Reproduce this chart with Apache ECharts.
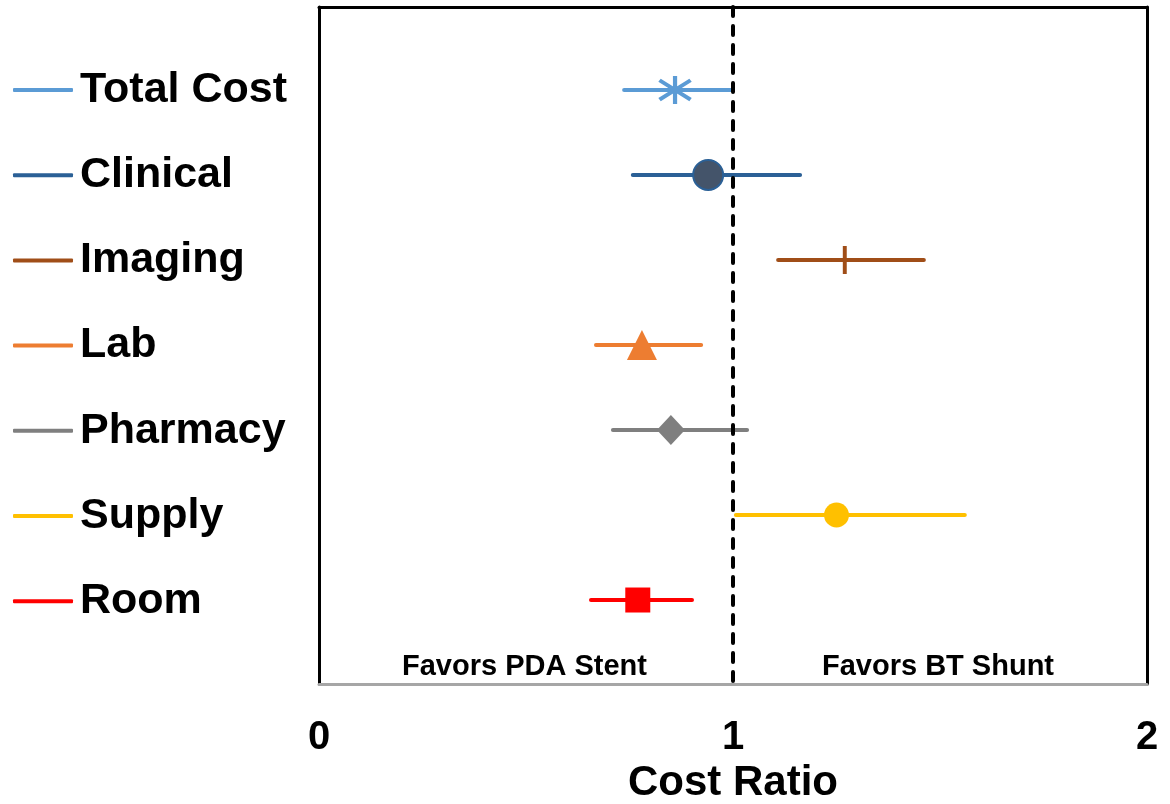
<!DOCTYPE html>
<html>
<head>
<meta charset="utf-8">
<script src="https://cdn.jsdelivr.net/npm/echarts@6/dist/echarts.min.js"></script>
<style>html,body{margin:0;padding:0;background:#fff}#c{width:1170px;height:804px}</style>
</head>
<body>
<div id="c"></div>
<script>
const categories = ['Total Cost', 'Clinical', 'Imaging', 'Lab', 'Pharmacy', 'Supply', 'Room'];
const estimates = [0.86, 0.94, 1.27, 0.78, 0.85, 1.25, 0.77];
const lower = [0.737, 0.758, 1.109, 0.669, 0.710, 1.007, 0.657];
const upper = [1.0, 1.162, 1.461, 0.923, 1.034, 1.560, 0.901];
const xTicks = [0, 1, 2];
const colors = ['#5B9BD5', '#2B6096', '#A04E18', '#ED7D31', '#7F7F7F', '#FFC000', '#FF0000'];
const refLine = 1;

const FONT = "'Liberation Sans', Arial, Helvetica, sans-serif";

const symbols = [
  {symbol: 'path://M0,-13L0,13M-13,-9L13,9M-13,9L13,-9', size: [31, 28], style: {color: 'transparent', borderColor: colors[0], borderWidth: 4, opacity: 1}},
  {symbol: 'circle', size: 30, style: {color: '#44546A', borderColor: '#2B6096', borderWidth: 2, opacity: 1}},
  {symbol: 'path://M0,-13L0,13M-13,0L13,0', size: [27, 28], style: {color: 'transparent', borderColor: colors[2], borderWidth: 4, opacity: 1}},
  {symbol: 'triangle', size: [30, 30], style: {color: colors[3], opacity: 1}},
  {symbol: 'diamond', size: [28, 30], style: {color: colors[4], opacity: 1}},
  {symbol: 'circle', size: 25, style: {color: colors[5], opacity: 1}},
  {symbol: 'rect', size: 25, style: {color: colors[6], opacity: 1}}
];

const series = [];
categories.forEach((name, i) => {
  series.push({
    type: 'line', name: name, symbol: 'none', silent: true, z: 2,
    color: colors[i],
    lineStyle: {color: colors[i], width: 4, cap: 'round'},
    data: [[lower[i], i + 1], [upper[i], i + 1]]
  });
});
categories.forEach((name, i) => {
  series.push({
    type: 'scatter', name: name, silent: true, z: 4,
    symbol: symbols[i].symbol, symbolSize: symbols[i].size,
    itemStyle: symbols[i].style,
    data: [[estimates[i], i + 1]]
  });
});
series.push({
  type: 'line', name: 'ref', data: [], z: 3, silent: true,
  markLine: {
    silent: true, symbol: ['none', 'none'], label: {show: false},
    lineStyle: {color: '#000', type: [9, 10], width: 4, cap: 'round'},
    data: [{xAxis: refLine}]
  }
});

const yMin = 0.024, yMax = 7.988;

const chart = echarts.init(document.getElementById('c'), null, {renderer: 'canvas'});
chart.setOption({
  animation: false,
  backgroundColor: '#fff',
  grid: {left: 319, right: 23, top: 7, bottom: 120, containLabel: false, outerBoundsMode: 'none'},
  legend: {
    data: categories, orient: 'vertical', left: 13, top: 67, padding: 0,
    icon: 'roundRect', itemWidth: 60, itemHeight: 4, itemGap: 39.2,
    selectedMode: false,
    textStyle: {fontSize: 43, fontWeight: 'bold', color: '#000', fontFamily: FONT, lineHeight: 46, padding: [0, 0, 0, 2]}
  },
  xAxis: [
    {
      type: 'value', min: 0, max: 2, interval: 1, position: 'bottom',
      name: 'Cost Ratio', nameLocation: 'middle', nameGap: 61,
      nameTextStyle: {fontSize: 42, fontWeight: 'bold', color: '#000', fontFamily: FONT},
      axisLine: {show: true, onZero: false, lineStyle: {color: '#A6A6A6', width: 3}},
      axisTick: {show: false}, splitLine: {show: false},
      axisLabel: {fontSize: 40, fontWeight: 'bold', color: '#000', fontFamily: FONT, margin: 34,
        formatter: v => xTicks.indexOf(v) >= 0 ? String(v) : ''}
    },
    {
      type: 'value', min: 0, max: 2, position: 'top',
      axisLine: {show: true, onZero: false, lineStyle: {color: '#000', width: 3}},
      axisTick: {show: false}, axisLabel: {show: false}, splitLine: {show: false}
    }
  ],
  yAxis: [
    {
      type: 'value', min: yMin, max: yMax, inverse: true, position: 'left',
      axisLine: {show: true, onZero: false, lineStyle: {color: '#000', width: 3}},
      axisTick: {show: false}, axisLabel: {show: false}, splitLine: {show: false}
    },
    {
      type: 'value', min: yMin, max: yMax, inverse: true, position: 'right',
      axisLine: {show: true, onZero: false, lineStyle: {color: '#000', width: 3}},
      axisTick: {show: false}, axisLabel: {show: false}, splitLine: {show: false}
    }
  ],
  graphic: [
    {type: 'text', left: 402, top: 652, style: {text: 'Favors PDA Stent', fontSize: 29, fontWeight: 'bold', fill: '#000', fontFamily: FONT}},
    {type: 'text', left: 822, top: 652, style: {text: 'Favors BT Shunt', fontSize: 29, fontWeight: 'bold', fill: '#000', fontFamily: FONT}}
  ],
  series: series
});
</script>
</body>
</html>
